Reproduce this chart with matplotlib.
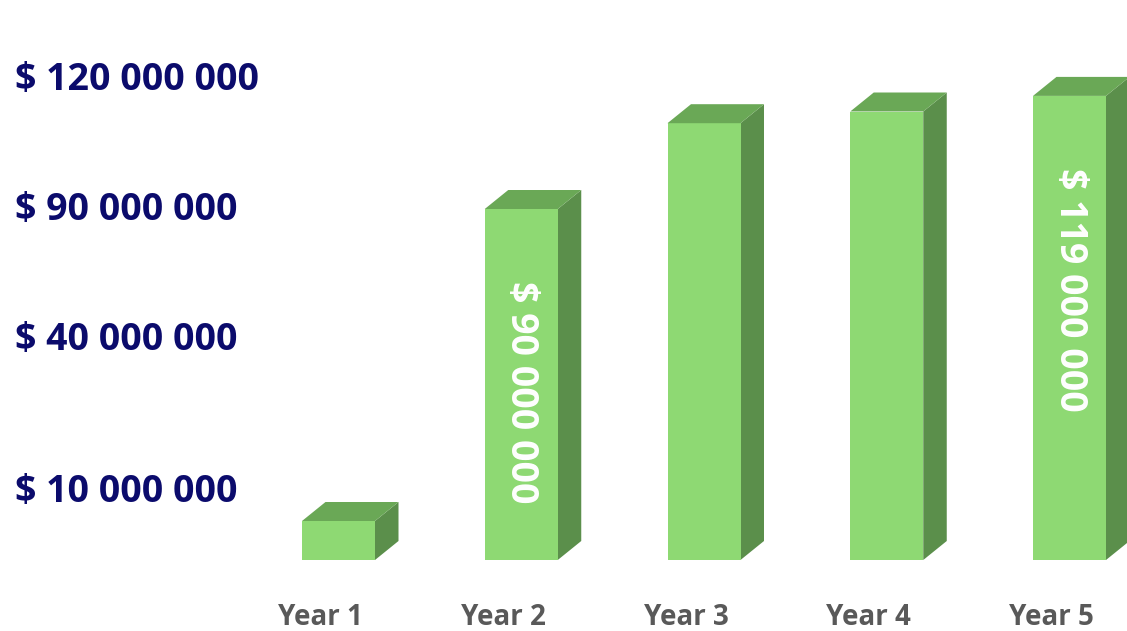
import matplotlib
matplotlib.use("Agg")
import matplotlib.pyplot as plt
from matplotlib.patches import Polygon
from matplotlib.transforms import ScaledTranslation

# data (millions of $)
years = ["Year 1", "Year 2", "Year 3", "Year 4", "Year 5"]
revenue = [10, 90, 112, 115, 119]
bar_labels = [None, "$ 90 000 000", None, None, "$ 119 000 000"]
side_labels = ["$ 120 000 000", "$ 90 000 000", "$ 40 000 000", "$ 10 000 000"]
side_label_y = [80, 210, 340, 492]  # pixel rows from top

front_col = "#8ed973"
top_col = "#6aa856"
side_col = "#5b8f4b"
navy = "#0b0b6c"
grey = "#595959"

W, H = 1127, 631
fig = plt.figure(figsize=(W / 100, H / 100), dpi=100)
plt.rcParams['font.family'] = ['Open Sans', 'DejaVu Sans']

# axes: bottom at px 560, 3.9 px per million, bar spacing 182.75 px
px_per_m = 3.9
step = 182.75
left_px = 338.5 - 0.5 * step
ax = fig.add_axes([left_px / W, 1 - 560 / H, (W - left_px) / W, 500 / H])
ax.set_xlim(-0.5, (W - left_px) / step - 0.5)
ax.set_ylim(0, 500 / px_per_m)

width = 73 / step
dx = 23.5 / step
dy = 19 / px_per_m

xs = list(range(len(years)))
ax.bar(xs, revenue, width=width, color=front_col, zorder=2)
for x, v in zip(xs, revenue):
    l, r = x - width / 2, x + width / 2
    top = Polygon([(l, v), (r, v), (r + dx, v + dy), (l + dx, v + dy)],
                  closed=True, facecolor=top_col, edgecolor="none", zorder=2, clip_on=False)
    side = Polygon([(r, 0), (r + dx, dy), (r + dx, v + dy), (r, v)],
                   closed=True, facecolor=side_col, edgecolor="none", zorder=1, clip_on=False)
    ax.add_patch(top)
    ax.add_patch(side)

# labels inside the bars, read top to bottom
for x, v, lab in zip(xs, revenue, bar_labels):
    if lab is None:
        continue
    ax.text(x, v - 72 / px_per_m, lab, rotation=-90, ha="center", va="top",
            color="white", fontsize=27, fontweight="bold", zorder=3)

ax.set_xticks(xs)
ax.set_xticklabels(years, fontsize=20, fontweight="bold", color=grey)
ax.tick_params(axis="x", length=0, pad=31)
for t in ax.get_xticklabels():
    t.set_transform(t.get_transform() + ScaledTranslation(-18 / 100, 0, fig.dpi_scale_trans))
ax.set_yticks([])
for s in ax.spines.values():
    s.set_visible(False)

for lab, ypx in zip(side_labels, side_label_y):
    fig.text(15 / W, 1 - ypx / H, lab, ha="left", va="center",
             color=navy, fontsize=27, fontweight="bold")

fig.savefig("out.png", dpi=100)
